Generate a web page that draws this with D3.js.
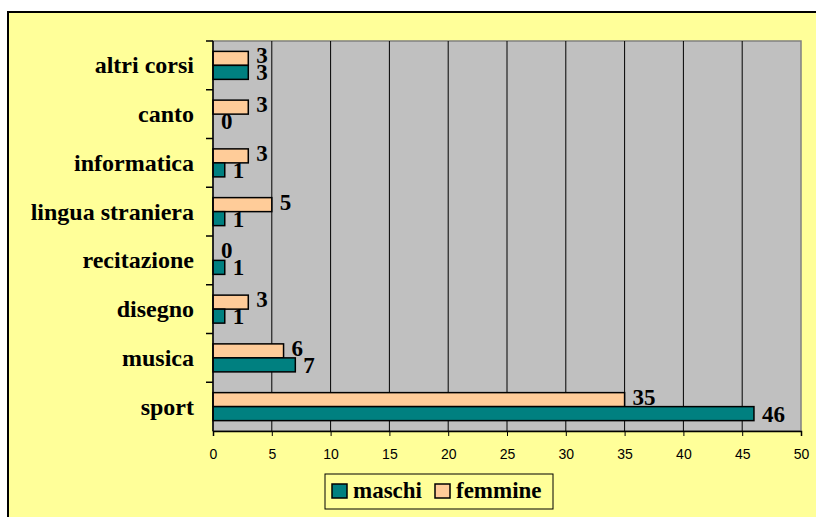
<!DOCTYPE html>
<html>
<head>
<meta charset="utf-8">
<script src="https://cdn.jsdelivr.net/npm/d3@7"></script>
<style>
  body { margin: 0; background: #fff; }
  .serif { font-family: "Liberation Serif", "Times New Roman", serif; font-weight: bold; }
  .sans { font-family: "Liberation Sans", Arial, sans-serif; }
</style>
</head>
<body>
<div class="chart"></div>
<script>
// categories from bottom to top
const categories = ["sport", "musica", "disegno", "recitazione", "lingua straniera", "informatica", "canto", "altri corsi"];
const maschi = [46, 7, 1, 1, 1, 1, 0, 3];
const femmine = [35, 6, 3, 0, 5, 3, 3, 3];
const xTicks = [0, 5, 10, 15, 20, 25, 30, 35, 40, 45, 50];

const w = 816;
const h = 517;
const plot = {left: 213, top: 41, right: 801, bottom: 431};

const svg = d3.select(".chart")
  .append("svg")
  .attr("width", w)
  .attr("height", h);

// chart area
svg.append("rect")
  .attr("x", 8).attr("y", 12)
  .attr("width", w).attr("height", h)
  .attr("fill", "#FFFF99")
  .attr("stroke", "#000")
  .attr("stroke-width", 2);

const x = d3.scaleLinear().domain([0, 50]).range([plot.left, plot.right]);
const y = d3.scaleBand()
  .domain(categories.slice().reverse())
  .range([plot.top, plot.bottom]);

// plot area
svg.append("rect")
  .attr("x", plot.left).attr("y", plot.top)
  .attr("width", plot.right - plot.left)
  .attr("height", plot.bottom - plot.top)
  .attr("fill", "#C0C0C0")
  .attr("stroke", "#808080")
  .attr("stroke-width", 1.5);

// gridlines
svg.selectAll(".grid")
  .data(xTicks.slice(1, -1))
  .enter()
  .append("line")
  .attr("x1", d => x(d)).attr("x2", d => x(d))
  .attr("y1", plot.top).attr("y2", plot.bottom)
  .attr("stroke", "#000")
  .attr("stroke-width", 1);

// bars: femmine on top, maschi underneath
const barH = 14;
const bandPad = (y.bandwidth() - 2 * barH) / 2;

const groups = [
  {name: "femmine", values: femmine, color: "#FFCC99", off: 0, dy: 5},
  {name: "maschi", values: maschi, color: "#008080", off: 1, dy: 8}
];

groups.forEach(function(g){
  svg.selectAll(".bar-" + g.name)
    .data(categories)
    .enter()
    .append("rect")
    .attr("x", x(0))
    .attr("y", (d) => y(d) + bandPad + g.off * barH)
    .attr("width", (d, i) => x(g.values[i]) - x(0))
    .attr("height", barH)
    .attr("fill", g.color)
    .attr("stroke", "#000")
    .attr("stroke-width", 1.5);

  svg.selectAll(".lab-" + g.name)
    .data(categories)
    .enter()
    .append("text")
    .attr("class", "serif")
    .attr("x", (d, i) => x(g.values[i]) + 8)
    .attr("y", (d) => y(d) + bandPad + g.off * barH + barH / 2 + g.dy)
    .attr("font-size", 23)
    .text((d, i) => g.values[i]);
});

// axes
const xAxis = svg.append("g")
  .attr("transform", "translate(0," + plot.bottom + ")")
  .call(d3.axisBottom(x).tickValues(xTicks).tickSize(5).tickPadding(13));
xAxis.attr("font-family", null).attr("font-size", null);
xAxis.selectAll("text")
  .attr("class", "sans")
  .attr("font-size", 14)
  .attr("fill", "#000");
xAxis.select(".domain").attr("stroke", "#000").attr("stroke-width", 1.5);

const yAxis = svg.append("g")
  .attr("transform", "translate(" + plot.left + ",0)");
yAxis.append("line")
  .attr("x1", 0).attr("x2", 0)
  .attr("y1", plot.top).attr("y2", plot.bottom)
  .attr("stroke", "#000").attr("stroke-width", 1.5);
yAxis.selectAll(".tk")
  .data(categories)
  .enter()
  .append("line")
  .attr("x1", -7).attr("x2", 0)
  .attr("y1", d => y(d)).attr("y2", d => y(d))
  .attr("stroke", "#000").attr("stroke-width", 1.5);
yAxis.selectAll(".cat")
  .data(categories)
  .enter()
  .append("text")
  .attr("class", "serif")
  .attr("x", -19)
  .attr("y", d => y(d) + y.bandwidth() / 2 + 8)
  .attr("text-anchor", "end")
  .attr("font-size", 24)
  .text(d => d);

// legend
const legend = svg.append("g");
legend.append("rect")
  .attr("x", 325).attr("y", 474)
  .attr("width", 228).attr("height", 35)
  .attr("fill", "#FFFF99")
  .attr("stroke", "#000").attr("stroke-width", 1);

const legItems = [
  {name: "maschi", color: "#008080", x: 332},
  {name: "femmine", color: "#FFCC99", x: 435}
];
legItems.forEach(function(it){
  legend.append("rect")
    .attr("x", it.x).attr("y", 484)
    .attr("width", 15).attr("height", 14)
    .attr("fill", it.color)
    .attr("stroke", "#000").attr("stroke-width", 1.5);
  legend.append("text")
    .attr("class", "serif")
    .attr("x", it.x + 21).attr("y", 498)
    .attr("font-size", 23)
    .text(it.name);
});
</script>
</body>
</html>
